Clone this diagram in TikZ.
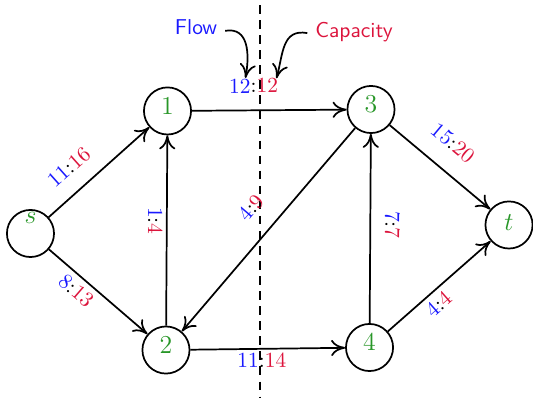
\documentclass[tikz,border=0pt]{standalone}
\usepackage{amsmath}
\usetikzlibrary{arrows.meta,positioning}
\definecolor{flowblue}{RGB}{25,25,255}
\definecolor{capred}{RGB}{220,20,60}
\definecolor{vgreen}{RGB}{40,150,40}
\newcommand{\fc}[2]{\textcolor{flowblue}{#1}:\textcolor{capred}{#2}}

\begin{document}
\begin{tikzpicture}[>={Computer Modern Rightarrow[length=6.5pt,width=7.5pt]}, thick,
    vertex/.style={circle, draw, minimum size=21.9pt, inner sep=0pt, font=\large, text=vgreen, text depth=4.6pt},
    flowlbl/.style={inner sep=1pt, sloped},
    note/.style={font=\sffamily}]
    \useasboundingbox (0,0) rectangle (8.709,6.503);
    \coordinate (cuttop) at (4.248,6.42);
    \coordinate (cutbot) at (4.248,0.02);
    \coordinate (flowtip) at (4.011,5.229);
    \coordinate (captip) at (4.518,5.224);
    \node[vertex, text depth=14.8pt] (s) at (0.498,2.688) {$s$};
    \node[vertex] (n1) at (2.737,4.690) {$1$};
    \node[vertex] (n2) at (2.712,0.784) {$2$};
    \node[vertex] (n3) at (6.062,4.714) {$3$};
    \node[vertex] (n4) at (6.038,0.825) {$4$};
    \node[vertex, text depth=2.3pt] (t) at (8.317,2.827) {$t$};
    \draw[dashed, dash pattern=on 4pt off 3pt] (cuttop) -- (cutbot);
    \draw[->] (s) -- (n1) node[flowlbl, pos=0.36, above=6pt] {\fc{11}{16}};
    \draw[->] (s) -- (n2) node[flowlbl, pos=0.37, below=1.5pt] {\fc{8}{13}};
    \draw[->] (n1) -- (n3) node[flowlbl, pos=0.40, above=6.7pt] {\fc{12}{12}};
    \draw[<-] (n1) -- (n2) node[flowlbl, allow upside down, pos=0.45, below=0.5pt] {\fc{1}{4}};
    \draw[->] (n3) -- (n2) node[flowlbl, pos=0.48, above=7.8pt] {\fc{4}{9}};
    \draw[->] (n2) -- (n4) node[flowlbl, pos=0.46, below=0.5pt] {\fc{11}{14}};
    \draw[<-] (n3) -- (n4) node[flowlbl, allow upside down, pos=0.48, above=5.4pt] {\fc{7}{7}};
    \draw[->] (n3) -- (t) node[flowlbl, pos=0.46, above=7.6pt] {\fc{15}{20}};
    \draw[->] (n4) -- (t) node[flowlbl, pos=0.41, below=1.3pt] {\fc{4}{4}};
    \node[note, text=flowblue] (flow) at (3.203,6.052) {Flow};
    \node[note, text=capred] (capacity) at (5.784,5.980) {Capacity};
    \draw[->] ([yshift=-1.5pt]flow.east) to[out=10, in=80, looseness=1.2] (flowtip);
    \draw[->] ([yshift=-0.5pt]capacity.west) to[out=170, in=75, looseness=1.2] (captip);
\end{tikzpicture}
\end{document}
